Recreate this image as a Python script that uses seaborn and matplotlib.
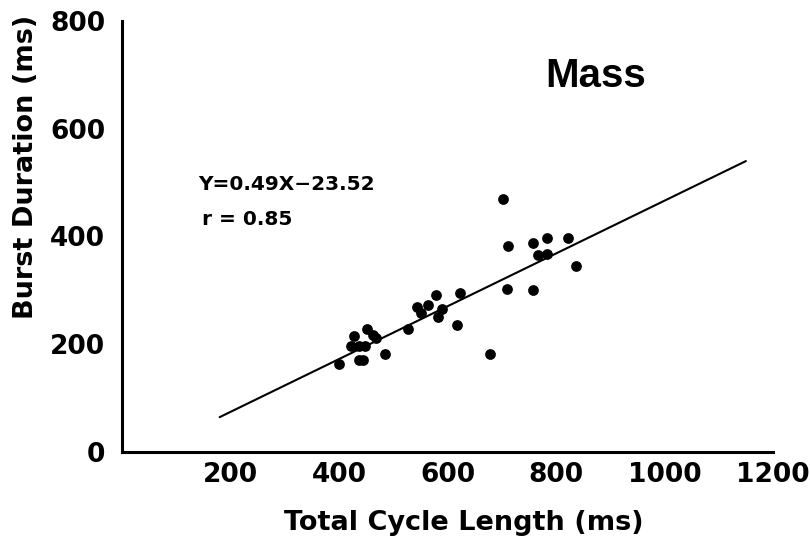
import matplotlib
matplotlib.use("Agg")
import matplotlib.pyplot as plt
import seaborn as sns
import numpy as np
import pandas as pd

# Data
cycle_length = [400, 422, 428, 437, 448, 451, 462, 468, 437, 445, 485,
                528, 544, 551, 564, 579, 583, 590, 618, 623, 678,
                710, 712, 702, 757, 757, 767, 784, 784, 823, 836]
burst_duration = [163, 197, 216, 196, 196, 228, 218, 212, 171, 171, 182,
                  229, 269, 258, 273, 292, 250, 265, 235, 295, 182,
                  303, 382, 469, 388, 301, 366, 398, 368, 398, 346]
slope = 0.49
intercept = -23.52
fit_x = [180, 1150]
x_ticks = [200, 400, 600, 800, 1000, 1200]
y_ticks = [0, 200, 400, 600, 800]
title = "Mass"
eq_text = "Y=0.49X\u221223.52"
r_text = "r = 0.85"

df = pd.DataFrame({"x": cycle_length, "y": burst_duration})
fit_df = pd.DataFrame({"x": fit_x, "y": [slope * v + intercept for v in fit_x]})

sns.set_style("white")
plt.rcParams["font.family"] = ["DejaVu Sans"]
plt.rcParams["text.color"] = "black"
plt.rcParams["axes.labelcolor"] = "black"
plt.rcParams["xtick.color"] = "black"
plt.rcParams["ytick.color"] = "black"

fig = plt.figure(figsize=(8.1, 5.51), dpi=100)
ax = fig.add_axes([122 / 810, 1 - 452 / 551, 651 / 810, 431 / 551])

sns.lineplot(data=fit_df, x="x", y="y", ax=ax, color="black", linewidth=1.5)
sns.scatterplot(data=df, x="x", y="y", ax=ax, color="black", s=60,
                edgecolor="black", linewidth=0, zorder=3)

ax.set_xlim(0, 1200)
ax.set_ylim(0, 800)
ax.set_xticks(x_ticks)
ax.set_yticks(y_ticks)
ax.set_xticklabels([str(t) for t in x_ticks])
ax.set_yticklabels([str(t) for t in y_ticks])

for side in ["top", "right"]:
    ax.spines[side].set_visible(False)
for side in ["left", "bottom"]:
    ax.spines[side].set_linewidth(2.2)
    ax.spines[side].set_color("black")

ax.tick_params(axis="both", direction="in", length=6, width=1.5,
               colors="black", labelsize=19)
ax.tick_params(axis="x", pad=7)
ax.tick_params(axis="y", pad=12)
for lab in ax.get_xticklabels() + ax.get_yticklabels():
    lab.set_fontweight("bold")

ax.set_xlabel("Total Cycle Length (ms)", fontsize=19.5, fontweight="bold")
ax.set_ylabel("Burst Duration (ms)", fontsize=19.5, fontweight="bold")
ax.xaxis.set_label_coords(0.525, -0.135)
ax.yaxis.set_label_coords(-0.127, 0.661)

ax.text(0.65, 0.847, title, transform=ax.transAxes, fontsize=29,
        fontweight="bold", family=["Liberation Sans", "DejaVu Sans"],
        ha="left", va="baseline")
ax.text(0.117, 0.608, eq_text, transform=ax.transAxes, fontsize=14.5,
        fontweight="bold", ha="left", va="baseline")
ax.text(0.123, 0.527, r_text, transform=ax.transAxes, fontsize=14.5,
        fontweight="bold", ha="left", va="baseline")

fig.savefig("out.png", dpi=100)
